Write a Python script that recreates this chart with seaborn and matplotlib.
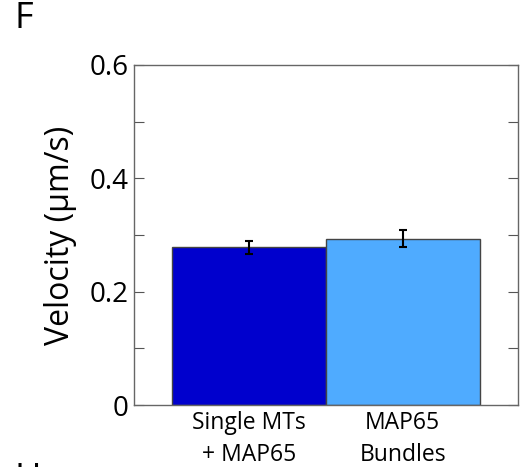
import matplotlib
matplotlib.use("Agg")
import matplotlib.pyplot as plt
import seaborn as sns
import pandas as pd
import numpy as np

categories = ["Single MTs\n+ MAP65", "MAP65\nBundles"]
velocity = [0.278, 0.293]
velocity_err = [0.012, 0.015]
bar_colors = ["#0000CD", "#4FABFF"]
yticks = [0, 0.1, 0.2, 0.3, 0.4, 0.5, 0.6]
ytick_labels = ["0", "", "0.2", "", "0.4", "", "0.6"]

sns.set_theme(style="white")
plt.rcParams["font.family"] = ["Open Sans", "DejaVu Sans"]
plt.rcParams["text.color"] = "black"
plt.rcParams["axes.labelcolor"] = "black"
plt.rcParams["xtick.color"] = "black"
plt.rcParams["ytick.color"] = "black"

df = pd.DataFrame({"cond": categories, "v": velocity})

fig = plt.figure(figsize=(5.23, 4.67), dpi=100)
ax = fig.add_axes([134/523, 1-405/467, (518-134)/523, (405-65)/467])

sns.barplot(data=df, x="cond", y="v", hue="cond", palette=bar_colors,
            width=1.0, edgecolor="#444444", linewidth=1.0, errorbar=None,
            legend=False, ax=ax, saturation=1)
ax.errorbar(np.arange(len(categories)), velocity, yerr=velocity_err, fmt="none",
            ecolor="black", elinewidth=1.5, capsize=3, capthick=1.5, zorder=5)

ax.set_xlim(-0.75, 1.75)
ax.set_ylim(0, 0.6)
ax.set_yticks(yticks)
ax.set_yticklabels(ytick_labels, fontsize=20)
ax.tick_params(axis="y", which="both", direction="in", length=7, width=0.8,
               color="#555555", labelcolor="black", left=True, right=True, pad=4)
ax.tick_params(axis="x", length=0, labelsize=16.5, labelcolor="black", pad=4)
for lbl in ax.get_xticklabels():
    lbl.set_linespacing(1.45)
ax.set_xlabel("")
ax.set_ylabel("Velocity (\u03bcm/s)", fontsize=23, labelpad=9, color="black")
for s in ax.spines.values():
    s.set_color("#666666")
    s.set_linewidth(1.0)

fig.text(14/523, 1-37/467, "F", fontsize=26, va="bottom", ha="left", color="black")
fig.text(14/523, 1-462/467, "H", fontsize=26, va="top", ha="left", color="black")

fig.savefig("out.png", dpi=100)
